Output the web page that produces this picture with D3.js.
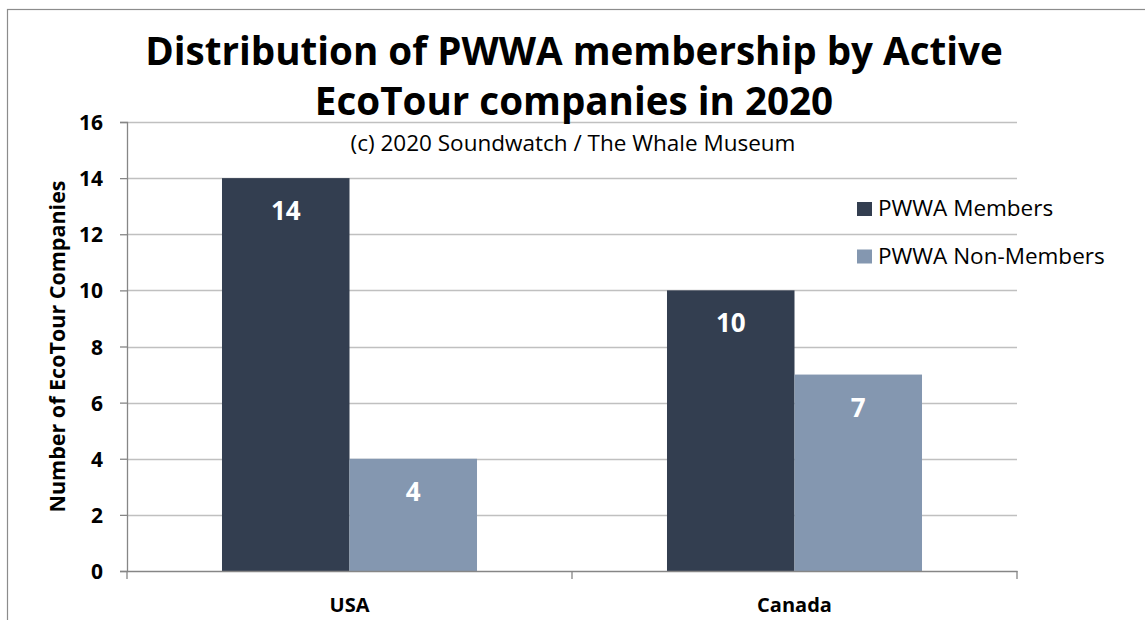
<!DOCTYPE html>
<html>
<head>
<meta charset="utf-8">
<script src="https://cdn.jsdelivr.net/npm/d3@7"></script>
<style>
  body { margin: 0; background: #fff; }
  text { font-family: "Open Sans", sans-serif; }
</style>
</head>
<body>
<div id="chart"></div>
<script>
// Data
const countries = ["USA", "Canada"];
const seriesNames = ["PWWA Members", "PWWA Non-Members"];
const members = [14, 10];
const nonMembers = [4, 7];
const yTicks = [0, 2, 4, 6, 8, 10, 12, 14, 16];
const seriesColors = ["#333e50", "#8497b0"];

const W = 1145, H = 620;
const margin = { top: 122, right: 128, bottom: 49, left: 127 };
const width = W - margin.left - margin.right;
const height = H - margin.top - margin.bottom;

const rows = countries.map((c, i) => ({ country: c, values: [members[i], nonMembers[i]] }));

const svg = d3.select("#chart")
  .append("svg")
  .attr("width", W)
  .attr("height", H);

// outer chart frame (runs off the right and bottom of the picture)
svg.append("rect")
  .attr("x", 7.5).attr("y", 9.5)
  .attr("width", 1200).attr("height", 700)
  .attr("fill", "none")
  .attr("stroke", "#8c8c8c")
  .attr("stroke-width", 1.2);

const g = svg.append("g")
  .attr("transform", `translate(${margin.left},${margin.top})`);

// Scales
const xScale = d3.scaleBand().domain(countries).range([0, width]).padding(0);
const xSub = d3.scaleBand().domain(seriesNames).range([0, xScale.bandwidth()]).paddingInner(0).paddingOuter(0.745);
const yScale = d3.scaleLinear().domain([0, 16]).range([height, 0]);

// Gridlines
g.append("g")
  .selectAll("line")
  .data(yTicks.filter(d => d > 0))
  .enter()
  .append("line")
  .attr("x1", 0).attr("x2", width)
  .attr("y1", d => Math.round(yScale(d)) + 0.5)
  .attr("y2", d => Math.round(yScale(d)) + 0.5)
  .attr("stroke", "#c0c0c0")
  .attr("stroke-width", 1.3);

// Bars
const groups = g.selectAll(".grp")
  .data(rows)
  .enter()
  .append("g")
  .attr("class", "grp")
  .attr("transform", d => `translate(${xScale(d.country)},0)`);

groups.selectAll("rect")
  .data(d => d.values.map((v, i) => ({ v, s: seriesNames[i], i })))
  .enter()
  .append("rect")
  .attr("x", d => xSub(d.s))
  .attr("y", d => yScale(d.v))
  .attr("width", xSub.bandwidth())
  .attr("height", d => height - yScale(d.v))
  .attr("fill", d => seriesColors[d.i]);

groups.selectAll(".val")
  .data(d => d.values.map((v, i) => ({ v, s: seriesNames[i], i })))
  .enter()
  .append("text")
  .attr("class", "val")
  .attr("x", d => xSub(d.s) + xSub.bandwidth() / 2)
  .attr("y", d => yScale(d.v) + 42)
  .attr("text-anchor", "middle")
  .attr("fill", "#fff")
  .style("font-weight", "bold")
  .style("font-size", "26px")
  .text(d => d.v);

// Y axis
const yAxis = g.append("g")
  .call(d3.axisLeft(yScale).tickValues(yTicks).tickSize(7).tickPadding(17));
yAxis.select(".domain").attr("stroke", "#868686").attr("stroke-width", 1.3);
yAxis.selectAll(".tick line").attr("stroke", "#868686").attr("stroke-width", 1.3);
yAxis.selectAll("text")
  .style("font-size", "21px")
  .style("font-weight", "bold")
  .attr("fill", "#000")
  .attr("dy", "0.36em");

// X axis
const xAxis = g.append("g")
  .attr("transform", `translate(0,${height})`)
  .call(d3.axisBottom(xScale).tickSize(0).tickPadding(27));
xAxis.select(".domain").attr("stroke", "#868686").attr("stroke-width", 1.3);
xAxis.selectAll("text")
  .style("font-size", "20px")
  .style("font-weight", "bold")
  .attr("fill", "#000");

// category separator ticks
xAxis.selectAll(".sep")
  .data([0, xScale.step(), width])
  .enter()
  .append("line")
  .attr("x1", d => d).attr("x2", d => d)
  .attr("y1", 0).attr("y2", 8)
  .attr("stroke", "#868686")
  .attr("stroke-width", 1.3);

// Y axis title
svg.append("text")
  .attr("transform", `translate(65,${margin.top + height / 2}) rotate(-90)`)
  .attr("text-anchor", "middle")
  .style("font-size", "21.5px")
  .style("font-weight", "bold")
  .text("Number of EcoTour Companies");

// Title
const title = svg.append("text")
  .attr("x", 574)
  .attr("text-anchor", "middle")
  .style("font-size", "38.6px")
  .style("font-weight", "bold");
title.append("tspan").attr("x", 574).attr("y", 65).text("Distribution of PWWA membership by Active");
title.append("tspan").attr("x", 574).attr("y", 115).text("EcoTour companies in 2020");

svg.append("text")
  .attr("x", 573)
  .attr("y", 151)
  .attr("text-anchor", "middle")
  .style("font-size", "22.5px")
  .text("(c) 2020 Soundwatch / The Whale Museum");

// Legend
const legend = svg.append("g").attr("transform", "translate(857,202)");
const items = legend.selectAll("g")
  .data(seriesNames)
  .enter()
  .append("g")
  .attr("transform", (d, i) => `translate(0,${i * 47.5})`);
items.append("rect")
  .attr("width", 15).attr("height", 14)
  .attr("fill", (d, i) => seriesColors[i]);
items.append("text")
  .attr("x", 21)
  .attr("y", 14)
  .style("font-size", "22.5px")
  .text(d => d);
</script>
</body>
</html>
